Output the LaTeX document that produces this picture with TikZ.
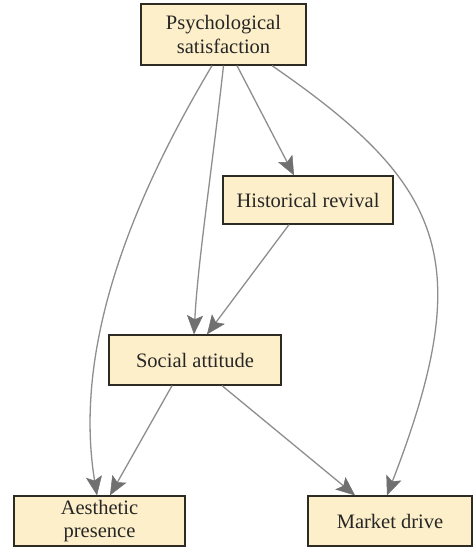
\documentclass[tikz,border=0pt]{standalone}
\usepackage{fontspec}
\setmainfont{Liberation Serif}
\usetikzlibrary{arrows.meta}
\definecolor{boxfill}{HTML}{FDEFC9}
\definecolor{boxline}{HTML}{2E2A24}
\definecolor{edgecol}{HTML}{8E8E8E}
\definecolor{tipcol}{HTML}{707070}
\tikzset{
  box/.style={draw=boxline, fill=boxfill, line width=1.3pt, inner sep=0pt,
    align=center, font=\fontsize{20.5}{23.5}\selectfont, text=black!85},
  link/.style={draw=edgecol, line width=1.3pt,
    -{Stealth[length=19pt,width=16pt,inset=4pt,fill=tipcol,color=tipcol,line width=0.5pt]}}
}
\begin{document}
\begin{tikzpicture}[x=1pt,y=-1pt]
\useasboundingbox[fill=white] (0,0) rectangle (474,548);
\node[box, minimum width=165pt, minimum height=61pt] (psy) at (223.5,34.5) {Psychological\\satisfaction};
\node[box, minimum width=170pt, minimum height=48pt] (his) at (308,200) {Historical revival};
\node[box, minimum width=172pt, minimum height=50pt] (soc) at (195,360) {Social attitude};
\node[box, minimum width=171pt, minimum height=50pt] (aes) at (99.5,521) {Aesthetic\\presence};
\node[box, minimum width=164pt, minimum height=50pt] (mar) at (390,521) {Market drive};

\draw[link] ([xshift=-11.5pt]psy.south) .. controls (150,170) and (70,330) .. ([xshift=-2.5pt]aes.north);
\draw[link] (psy.south) .. controls (212,170) and (198,260) .. ([xshift=-1pt]soc.north);
\draw[link] ([xshift=13.5pt]psy.south) -- ([xshift=-14pt]his.north);
\draw[link] ([xshift=48.5pt]psy.south) .. controls (445,185) and (478,260) .. ([xshift=-3pt]mar.north);
\draw[link] ([xshift=-19pt]his.south) -- ([xshift=12pt]soc.north);
\draw[link] ([xshift=-23pt]soc.south) -- ([xshift=10.5pt]aes.north);
\draw[link] ([xshift=27pt]soc.south) -- ([xshift=-35pt]mar.north);
\end{tikzpicture}
\end{document}
